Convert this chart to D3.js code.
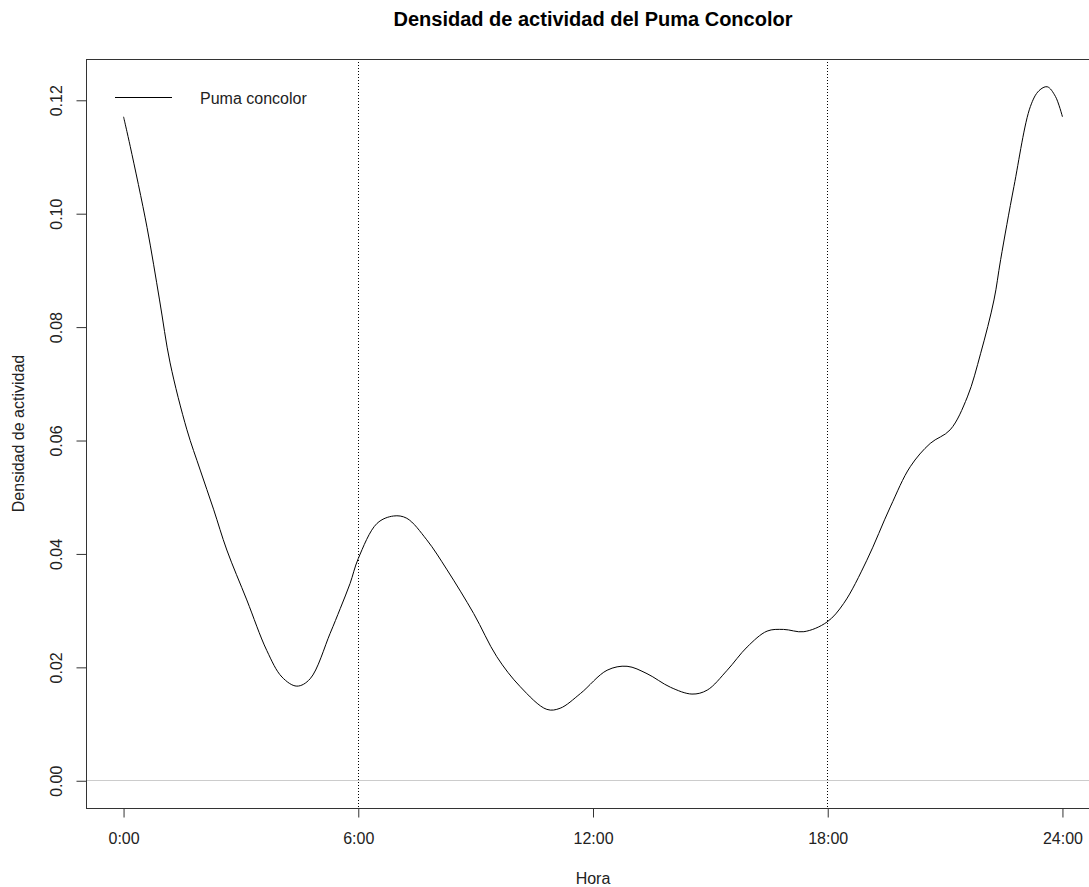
<!DOCTYPE html>
<html>
<head>
<meta charset="utf-8">
<script src="https://cdn.jsdelivr.net/npm/d3@7"></script>
<style>
  html, body { margin: 0; padding: 0; background: #fff; }
  svg { display: block; font-family: "Liberation Sans", Arial, sans-serif; }
</style>
</head>
<body>
<svg id="chart" width="1089" height="887"></svg>
<script>
// Hour of day (0-24) and estimated activity density of Puma concolor
const hours = [0, 0.17, 0.6, 0.92, 1.19, 1.62, 1.96, 2.3, 2.64, 3.15, 3.66, 4.05, 4.43, 4.77, 5.28, 5.54, 5.79,
  6.0, 6.48, 6.9, 7.24, 7.75, 8.27, 8.95, 9.54, 10.14, 10.82, 11.16, 11.68, 12.36, 12.87, 13.38, 13.98,
  14.53, 14.92, 15.43, 15.94, 16.45, 16.87, 17.39, 17.98, 18.41, 19.0, 19.6, 20.11, 20.62, 21.13, 21.57,
  21.91, 22.25, 22.42, 22.76, 23.18, 23.4, 23.61, 23.82, 24.0];
const density = [0.117, 0.1118, 0.0975, 0.0847, 0.0736, 0.0618, 0.0547, 0.0478, 0.0406, 0.0318, 0.0229, 0.0182,
  0.0166, 0.0179, 0.0259, 0.0303, 0.0347, 0.0391, 0.0453, 0.0466, 0.0462, 0.0424, 0.0371, 0.0294, 0.0218,
  0.0165, 0.0125, 0.0127, 0.0153, 0.0194, 0.0201, 0.0188, 0.0164, 0.0152, 0.0159, 0.0194, 0.0235, 0.0263,
  0.0266, 0.0262, 0.0279, 0.0312, 0.0388, 0.0482, 0.0553, 0.0594, 0.0618, 0.0676, 0.0753, 0.0847, 0.0918,
  0.1047, 0.1188, 0.1216, 0.1223, 0.1206, 0.117];

const xTicks = [0, 6, 12, 18, 24];
const xTickLabels = ["0:00", "6:00", "12:00", "18:00", "24:00"];
const yTicks = [0, 0.02, 0.04, 0.06, 0.08, 0.10, 0.12];
const dayBounds = [6, 18];
const seriesName = "Puma concolor";

const svg = d3.select("#chart");
const plotL = 86, plotR = 1100, plotT = 59, plotB = 808;
const font = "Liberation Sans, Arial, sans-serif";

// 4% padding on each side of the data range
const xr = [0, 24], yr = [0, d3.max(density)];
const xPad = (xr[1] - xr[0]) * 0.04, yPad = (yr[1] - yr[0]) * 0.04;
const x = d3.scaleLinear().domain([xr[0] - xPad, xr[1] + xPad]).range([plotL, plotR]);
const y = d3.scaleLinear().domain([yr[0] - yPad, yr[1] + yPad]).range([plotB, plotT]);

// reference line at zero
svg.append("line")
  .attr("x1", plotL).attr("x2", plotR)
  .attr("y1", Math.round(y(0)) + 0.5).attr("y2", Math.round(y(0)) + 0.5)
  .attr("stroke", "#cccccc").attr("stroke-width", 1);

// sunrise / sunset markers
svg.selectAll(".bound").data(dayBounds).enter().append("line")
  .attr("x1", d => Math.floor(x(d)) + 0.5).attr("x2", d => Math.floor(x(d)) + 0.5)
  .attr("y1", plotT).attr("y2", plotB)
  .attr("stroke", "#000").attr("stroke-width", 1)
  .attr("stroke-dasharray", "1,2");

// density curve
const pts = hours.map((h, i) => [h, density[i]]);
svg.append("path")
  .datum(pts)
  .attr("fill", "none")
  .attr("stroke", "#000")
  .attr("stroke-width", 1)
  .attr("d", d3.line().x(d => x(d[0])).y(d => y(d[1])).curve(d3.curveCatmullRom.alpha(0.5)));

// plot frame
svg.append("rect")
  .attr("x", plotL + 0.5).attr("y", plotT + 0.5)
  .attr("width", plotR - plotL).attr("height", plotB - plotT)
  .attr("fill", "none").attr("stroke", "#333").attr("stroke-width", 1);

// x axis
const xAxis = d3.axisBottom(x).tickValues(xTicks)
  .tickFormat((d, i) => xTickLabels[i]).tickSize(9).tickPadding(15);
const gx = svg.append("g").attr("transform", `translate(0,${plotB + 0.5})`).call(xAxis);
gx.select(".domain").remove();
gx.selectAll(".tick line").attr("stroke", "#333");
gx.selectAll(".tick text").attr("font-size", 16).attr("fill", "#222").attr("font-family", font);

// y axis with rotated labels
const yAxis = d3.axisLeft(y).tickValues(yTicks).tickFormat(d3.format(".2f")).tickSize(10);
const gy = svg.append("g").attr("transform", `translate(${plotL + 0.5},0.5)`).call(yAxis);
gy.select(".domain").remove();
gy.selectAll(".tick line").attr("stroke", "#333");
gy.selectAll(".tick text")
  .attr("font-size", 16).attr("fill", "#222").attr("font-family", font)
  .attr("x", null).attr("dy", null)
  .attr("text-anchor", "middle")
  .attr("transform", "translate(-29,0) rotate(-90)")
  .attr("dominant-baseline", "middle");

// title and axis titles
svg.append("text")
  .attr("x", (plotL + plotR) / 2).attr("y", 26)
  .attr("text-anchor", "middle").attr("font-size", 20).attr("font-weight", "bold")
  .attr("fill", "#000").attr("font-family", font)
  .text("Densidad de actividad del Puma Concolor");

svg.append("text")
  .attr("x", (plotL + plotR) / 2).attr("y", 884)
  .attr("text-anchor", "middle").attr("font-size", 16).attr("fill", "#222").attr("font-family", font)
  .text("Hora");

svg.append("text")
  .attr("transform", `translate(24,${(plotT + plotB) / 2}) rotate(-90)`)
  .attr("text-anchor", "middle").attr("font-size", 16).attr("fill", "#222").attr("font-family", font)
  .text("Densidad de actividad");

// legend
const lg = svg.append("g");
lg.append("line")
  .attr("x1", 115).attr("x2", 172).attr("y1", 97.5).attr("y2", 97.5)
  .attr("stroke", "#000").attr("stroke-width", 1);
lg.append("text")
  .attr("x", 200).attr("y", 104)
  .attr("font-size", 16).attr("fill", "#222").attr("font-family", font)
  .text(seriesName);
</script>
</body>
</html>
